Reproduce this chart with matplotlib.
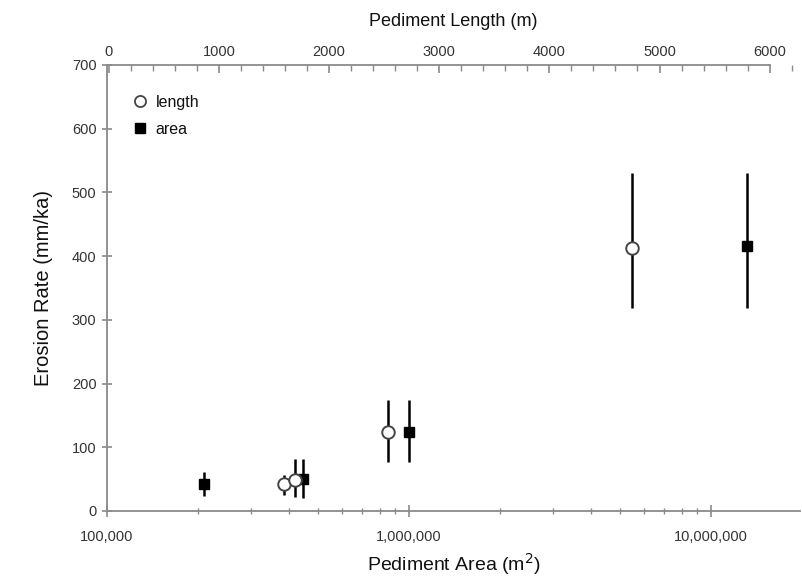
import matplotlib
matplotlib.use("Agg")
import matplotlib.pyplot as plt
from matplotlib.lines import Line2D
from matplotlib.ticker import FixedLocator, FuncFormatter, LogLocator, MultipleLocator, NullFormatter

plt.rcParams['font.family'] = ['Liberation Sans', 'DejaVu Sans']

# Length series (open circles, top axis)
length_m = [1590, 1690, 2540, 4750]
length_rate = [42, 49, 124, 413]
length_err_lo = [17, 27, 47, 94]
length_err_hi = [14, 33, 50, 117]

# Area series (filled squares, bottom axis)
area_m2 = [209000, 446000, 1003000, 13150000]
area_rate = [42, 50, 124, 416]
area_err_lo = [18, 30, 47, 97]
area_err_hi = [19, 32, 50, 114]

area_ticks = [100000, 1000000, 10000000]
length_ticks = [0, 1000, 2000, 3000, 4000, 5000, 6000]
rate_ticks = [0, 100, 200, 300, 400, 500, 600, 700]

fig = plt.figure(figsize=(8.02, 5.80), dpi=100)
ax = fig.add_axes([0.1334, 0.119, 0.8641, 0.769])
ax2 = ax.twiny()

spine_c = '#8a8a8a'
tick_c = '#333333'

ax.set_xscale('log')
ax.set_xlim(1e5, 1.97e7)
ax.set_ylim(0, 700)
ax2.set_xlim(-15, 6275)

# data
ax.errorbar(area_m2, area_rate, yerr=[area_err_lo, area_err_hi], fmt='s',
            color='black', ecolor='black', elinewidth=1.8, capsize=0,
            markersize=7.5, zorder=3)
ax2.errorbar(length_m, length_rate, yerr=[length_err_lo, length_err_hi], fmt='o',
             mfc='white', mec='#444444', mew=1.4, ecolor='black', elinewidth=1.8,
             capsize=0, markersize=9, zorder=3)

# spines
for a in (ax, ax2):
    for s in a.spines.values():
        s.set_color(spine_c)
        s.set_linewidth(1.3)
    a.spines['right'].set_visible(False)
ax2.spines['bottom'].set_visible(False)
ax2.spines['left'].set_visible(False)
ax.spines['top'].set_visible(False)
ax2.spines['top'].set_bounds(0, 6000)

# y axis
ax.yaxis.set_major_locator(FixedLocator(rate_ticks))
ax.tick_params(axis='y', direction='inout', length=7, width=1.2, color=spine_c,
               labelsize=10.5, labelcolor=tick_c, pad=4)

# bottom log axis
ax.xaxis.set_major_locator(FixedLocator(area_ticks))
ax.xaxis.set_major_formatter(FuncFormatter(lambda v, p: f"{int(round(v)):,}"))
ax.xaxis.set_minor_locator(LogLocator(base=10, subs=[2, 3, 4, 5, 6, 7, 8, 9]))
ax.xaxis.set_minor_formatter(NullFormatter())
ax.tick_params(axis='x', which='major', direction='inout', length=9, width=1.2,
               color=spine_c, labelsize=10.5, labelcolor=tick_c, pad=9)
ax.tick_params(axis='x', which='minor', direction='inout', length=5, width=1.0,
               color=spine_c)

# top linear axis
ax2.xaxis.set_major_locator(FixedLocator(length_ticks))
ax2.xaxis.set_minor_locator(MultipleLocator(200))
ax2.tick_params(axis='x', which='major', direction='in', length=6, width=1.2,
                color=spine_c, labelsize=10.5, labelcolor=tick_c, pad=4)
ax2.tick_params(axis='x', which='minor', direction='in', length=4, width=1.0,
                color=spine_c)

# labels
ax.set_ylabel('Erosion Rate (mm/ka)', fontsize=14.5, color='#111111', labelpad=14)
ax.set_xlabel('Pediment Area (m$^2$)', fontsize=14, color='#111111', labelpad=5)
ax2.set_xlabel('Pediment Length (m)', fontsize=13, color='#111111', labelpad=14)

# legend
handles = [
    Line2D([], [], linestyle='none', marker='o', mfc='white', mec='#444444', mew=1.3, markersize=8),
    Line2D([], [], linestyle='none', marker='s', color='black', markersize=7),
]
leg = ax.legend(handles, ['length', 'area'], loc='upper left', bbox_to_anchor=(0.01, 0.965),
                frameon=False, fontsize=11.5, handletextpad=0.2, labelspacing=0.75,
                handlelength=1.5)
for t in leg.get_texts():
    t.set_color('#111111')

fig.savefig('out.png', dpi=100)
